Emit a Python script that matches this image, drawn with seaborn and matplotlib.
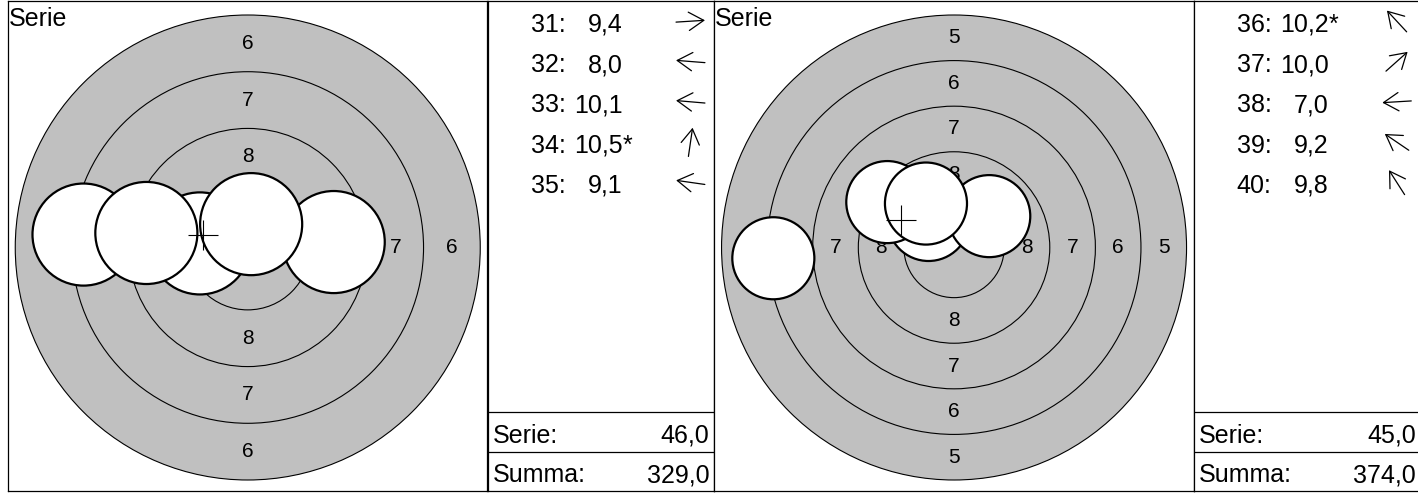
import numpy as np
import matplotlib
matplotlib.use("Agg")
import matplotlib.pyplot as plt
from matplotlib.patches import Circle
import seaborn as sns

# ---------------- data ----------------
s1_ids = [31, 32, 33, 34, 35]
s1_values = [9.4, 8.0, 10.1, 10.5, 9.1]
s1_inner = [False, False, False, True, False]
s1_x = [3.79, -7.24, -2.11, 0.15, -4.47]   # shot position, mm (right +)
s1_y = [0.24, 0.57, 0.18, 1.03, 0.64]      # shot position, mm (up +)
s1_lowest_ring = 6

s2_ids = [36, 37, 38, 39, 40]
s2_values = [10.2, 10.0, 7.0, 9.2, 9.8]
s2_inner = [True, False, False, False, False]
s2_x = [-1.40, 1.93, -9.91, -3.66, -1.54]
s2_y = [1.51, 1.72, -0.59, 2.49, 2.41]
s2_lowest_ring = 5

summa_totals = [329.0, 374.0]

# target geometry (10 m air rifle, mm)
TEN_R = 0.25
RING_W = 2.5
PELLET_R = 2.25

# ---------------- style ----------------
sns.set_theme(style="white")
plt.rcParams["font.family"] = ["Liberation Sans", "DejaVu Sans"]
plt.rcParams["text.color"] = "black"

W, H = 1418, 494
fig = plt.figure(figsize=(W / 100, H / 100), dpi=100)

GRAY = "#c0c0c0"
OUTER_PX = 232.5
TOP, BOT = 1.0, 491.0
CY = 247.5
TGT_W = 479.5
TXT_W = 226.8
PANE_X = [8.0, 714.3]
FS = 18


def add_axes_px(x0, y0, x1, y1):
    ax = fig.add_axes([x0 / W, 1 - y1 / H, (x1 - x0) / W, (y1 - y0) / H])
    for sp in ax.spines.values():
        sp.set_color("black")
        sp.set_linewidth(0.9)
    ax.set_xticks([])
    ax.set_yticks([])
    return ax


def fmt(v):
    return f"{v:.1f}".replace(".", ",")


def draw_target(ax, x0, x1, xs, ys, lowest):
    cx = (x0 + x1) / 2
    r_out = TEN_R + (10 - lowest) * RING_W
    scale = OUTER_PX / r_out
    ax.set_xlim((x0 - cx) / scale, (x1 - cx) / scale)
    ax.set_ylim((CY - BOT) / scale, (CY - TOP) / scale)
    for k in range(lowest, 10):
        r = TEN_R + (10 - k) * RING_W
        ax.add_patch(Circle((0, 0), r, fc=GRAY if k == lowest else "none",
                            ec="black", lw=0.8, zorder=1))
    for k in range(lowest, 9):
        d = TEN_R + (10 - k) * RING_W - RING_W / 2
        for px, py in [(0, d), (0, -d), (d, 0), (-d, 0)]:
            ax.text(px, py, str(k), ha="center", va="center", fontsize=15,
                    zorder=2)
    for i, (x, y) in enumerate(zip(xs, ys)):
        ax.add_patch(Circle((x, y), PELLET_R, fc="white", ec="black",
                            lw=1.6, zorder=3 + i))
    sns.scatterplot(x=[np.mean(xs)], y=[np.mean(ys)], marker="+", s=470,
                    color="black", linewidth=0.8, ax=ax, zorder=20,
                    legend=False)
    ax.set_xlabel("")
    ax.set_ylabel("")
    ax.annotate("Serie", xy=(0, 1), xycoords="axes fraction",
                xytext=(1, -25.5), textcoords="offset pixels",
                ha="left", va="baseline", fontsize=FS)


def draw_list(ax, ids, values, inner, xs, ys, summa):
    ax.set_xlim(0, TXT_W)
    ax.set_ylim(BOT - TOP, 0)
    for i, (sid, v, star, x, y) in enumerate(zip(ids, values, inner, xs, ys)):
        base = 30.7 + 40.3 * i
        ax.text(43, base, f"{sid}:", ha="left", va="baseline", fontsize=FS)
        ax.text(135, base, fmt(v), ha="right", va="baseline", fontsize=FS)
        if star:
            ax.text(135, base, "*", ha="left", va="baseline", fontsize=FS)
        ang = np.arctan2(y, x)
        c, s = np.cos(ang), np.sin(ang)
        acx, acy, L = 203, base - 10.5, 14.5
        ax.annotate("", xy=(acx + L * c, acy - L * s),
                    xytext=(acx - L * c, acy + L * s),
                    arrowprops=dict(arrowstyle="->,head_length=0.9,head_width=0.55",
                                    mutation_scale=12,
                                    lw=0.9, color="black",
                                    shrinkA=0, shrinkB=0))
    ax.axhline(410.7, color="black", lw=0.9)
    ax.axhline(451.3, color="black", lw=0.9)
    serie = sum(int(v) for v in values)
    ax.text(5.4, 441.7, "Serie:", ha="left", va="baseline", fontsize=FS)
    ax.text(222, 441.7, fmt(serie), ha="right", va="baseline", fontsize=FS)
    ax.text(5.4, 481.3, "Summa:", ha="left", va="baseline", fontsize=FS)
    ax.text(222, 481.3, fmt(summa), ha="right", va="baseline", fontsize=FS)


series = [
    (s1_ids, s1_values, s1_inner, s1_x, s1_y, s1_lowest_ring, summa_totals[0]),
    (s2_ids, s2_values, s2_inner, s2_x, s2_y, s2_lowest_ring, summa_totals[1]),
]

for px0, (ids, vals, inn, xs, ys, low, summa) in zip(PANE_X, series):
    tx0, tx1 = px0, px0 + TGT_W
    axt = add_axes_px(tx0, TOP, tx1, BOT)
    draw_target(axt, tx0, tx1, xs, ys, low)
    axl = add_axes_px(tx1, TOP, tx1 + TXT_W, BOT)
    draw_list(axl, ids, vals, inn, xs, ys, summa)

fig.savefig("out.png", dpi=100)
